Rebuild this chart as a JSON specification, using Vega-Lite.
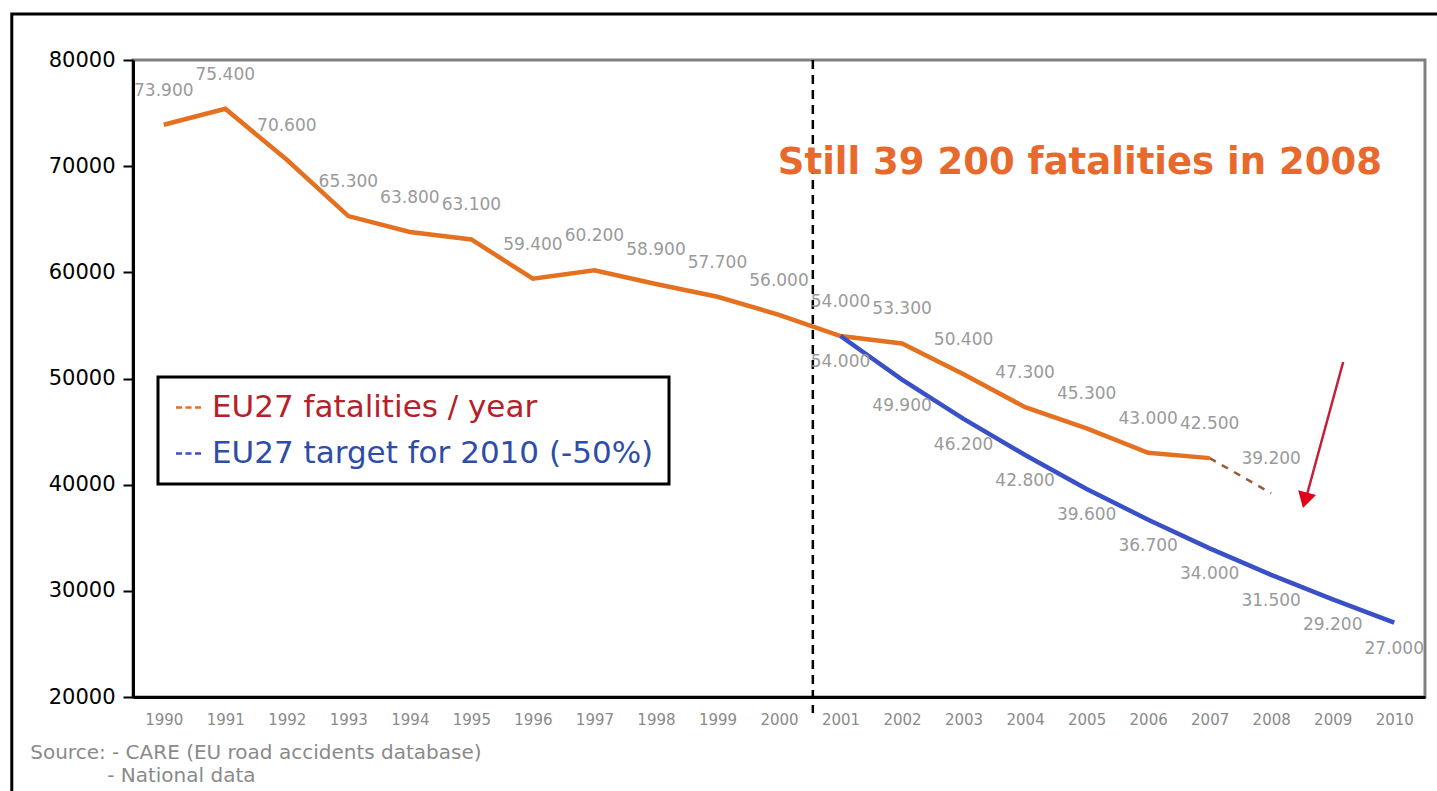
{
  "$schema": "https://vega.github.io/schema/vega-lite/v6.json",
  "autosize": {"type": "none"},
  "padding": {"left": 133, "top": 60, "right": 12, "bottom": 94},
  "width": 1292,
  "height": 637,
  "background": "white",
  "datasets": {
    "main": [
      {"year": 1990, "value": 73900, "series": "EU27 fatalities / year"},
      {"year": 1991, "value": 75400, "series": "EU27 fatalities / year"},
      {"year": 1992, "value": 70600, "series": "EU27 fatalities / year"},
      {"year": 1993, "value": 65300, "series": "EU27 fatalities / year"},
      {"year": 1994, "value": 63800, "series": "EU27 fatalities / year"},
      {"year": 1995, "value": 63100, "series": "EU27 fatalities / year"},
      {"year": 1996, "value": 59400, "series": "EU27 fatalities / year"},
      {"year": 1997, "value": 60200, "series": "EU27 fatalities / year"},
      {"year": 1998, "value": 58900, "series": "EU27 fatalities / year"},
      {"year": 1999, "value": 57700, "series": "EU27 fatalities / year"},
      {"year": 2000, "value": 56000, "series": "EU27 fatalities / year"},
      {"year": 2001, "value": 54000, "series": "EU27 fatalities / year"},
      {"year": 2002, "value": 53300, "series": "EU27 fatalities / year"},
      {"year": 2003, "value": 50400, "series": "EU27 fatalities / year"},
      {"year": 2004, "value": 47300, "series": "EU27 fatalities / year"},
      {"year": 2005, "value": 45300, "series": "EU27 fatalities / year"},
      {"year": 2006, "value": 43000, "series": "EU27 fatalities / year"},
      {"year": 2007, "value": 42500, "series": "EU27 fatalities / year"},
      {"year": 2007, "value": 42500, "series": "projection"},
      {"year": 2008, "value": 39200, "series": "projection"},
      {"year": 2001, "value": 54000, "series": "EU27 target for 2010 (-50%)"},
      {"year": 2002, "value": 49900, "series": "EU27 target for 2010 (-50%)"},
      {"year": 2003, "value": 46200, "series": "EU27 target for 2010 (-50%)"},
      {"year": 2004, "value": 42800, "series": "EU27 target for 2010 (-50%)"},
      {"year": 2005, "value": 39600, "series": "EU27 target for 2010 (-50%)"},
      {"year": 2006, "value": 36700, "series": "EU27 target for 2010 (-50%)"},
      {"year": 2007, "value": 34000, "series": "EU27 target for 2010 (-50%)"},
      {"year": 2008, "value": 31500, "series": "EU27 target for 2010 (-50%)"},
      {"year": 2009, "value": 29200, "series": "EU27 target for 2010 (-50%)"},
      {"year": 2010, "value": 27000, "series": "EU27 target for 2010 (-50%)"}
    ]
  },
  "layer": [
    {
      "data": {"values": [{"k": 1}]},
      "mark": {"type": "rect", "fillOpacity": 0, "stroke": "black", "strokeWidth": 3},
      "encoding": {
        "x": {"datum": 1987.53, "type": "quantitative", "scale": {"domain": [1989.5, 2010.5], "nice": false, "zero": false}},
        "x2": {"datum": 2011.5},
        "y": {"datum": 84330, "type": "quantitative", "scale": {"domain": [20000, 80000], "nice": false, "zero": false}},
        "y2": {"datum": 5000}
      }
    },
    {
      "data": {"name": "main"},
      "transform": [{"filter": "datum.series != 'projection'"}],
      "mark": {"type": "line", "strokeWidth": 4.5},
      "encoding": {
        "x": {
          "field": "year", "type": "quantitative",
          "scale": {"domain": [1989.5, 2010.5], "nice": false, "zero": false},
          "axis": {
            "title": null,
            "values": [1990,1991,1992,1993,1994,1995,1996,1997,1998,1999,2000,2001,2002,2003,2004,2005,2006,2007,2008,2009,2010],
            "format": "d",
            "grid": false,
            "ticks": false,
            "domainColor": "black",
            "domainWidth": 3,
            "labelColor": "#8a8a8a",
            "labelFont": "DejaVu Sans",
            "labelFontSize": 15,
            "labelPadding": 15
          }
        },
        "y": {
          "field": "value", "type": "quantitative",
          "scale": {"domain": [20000, 80000], "nice": false, "zero": false},
          "axis": {
            "title": null,
            "values": [20000, 30000, 40000, 50000, 60000, 70000, 80000],
            "format": "d",
            "grid": false,
            "domainColor": "black",
            "domainWidth": 3,
            "tickColor": "black",
            "tickWidth": 2,
            "tickSize": 10,
            "labelColor": "black",
            "labelFont": "DejaVu Sans",
            "labelFontSize": 21,
            "labelPadding": 8
          }
        },
        "color": {
          "field": "series", "type": "nominal",
          "scale": {"domain": ["EU27 fatalities / year", "EU27 target for 2010 (-50%)"], "range": ["#E5701F", "#3A50C6"]},
          "legend": {
            "title": null,
            "orient": "none",
            "legendX": 25,
            "legendY": 317,
            "direction": "vertical",
            "fillColor": "white",
            "strokeColor": "black",
            "padding": 15,
            "rowPadding": 14,
            "labelFont": "DejaVu Sans",
            "labelFontSize": 31,
            "labelOffset": 8,
            "labelLimit": 0,
            "symbolType": "M-1,0H-0.52M-0.24,0H0.24M0.52,0H1",
            "symbolSize": 625,
            "symbolStrokeWidth": 2.5,
            "encode": {
              "legend": {"update": {"strokeWidth": {"value": 3}}},
              "labels": {"update": {"fill": {"signal": "datum.value == 'EU27 fatalities / year' ? '#B5202A' : '#2D4DA8'"}}}
            }
          }
        }
      }
    },
    {
      "data": {"values": [{"k": 1}]},
      "mark": {"type": "rule", "stroke": "black", "strokeWidth": 2.5, "strokeDash": [9, 6]},
      "encoding": {
        "x": {"datum": 2000.55, "type": "quantitative", "scale": {"domain": [1989.5, 2010.5], "nice": false, "zero": false}},
        "y": {"datum": 80000, "type": "quantitative", "scale": {"domain": [20000, 80000], "nice": false, "zero": false}},
        "y2": {"datum": 18500}
      }
    },
    {
      "data": {"name": "main"},
      "transform": [{"filter": "datum.series == 'projection'"}],
      "mark": {"type": "line", "strokeWidth": 2.5, "strokeDash": [7, 7], "color": "#9A5A3A"},
      "encoding": {
        "x": {"field": "year", "type": "quantitative", "scale": {"domain": [1989.5, 2010.5], "nice": false, "zero": false}},
        "y": {"field": "value", "type": "quantitative", "scale": {"domain": [20000, 80000], "nice": false, "zero": false}}
      }
    },
    {
      "data": {"name": "main"},
      "transform": [
        {"filter": "(datum.series == 'EU27 fatalities / year') || (datum.series == 'projection' && datum.year == 2008)"},
        {"calculate": "replace(format(datum.value, ',.0f'), ',', '.')", "as": "lbl"}
      ],
      "mark": {"type": "text", "dy": -34, "font": "DejaVu Sans", "fontSize": 17, "color": "#9a9a9a"},
      "encoding": {
        "x": {"field": "year", "type": "quantitative", "scale": {"domain": [1989.5, 2010.5], "nice": false, "zero": false}},
        "y": {"field": "value", "type": "quantitative", "scale": {"domain": [20000, 80000], "nice": false, "zero": false}},
        "text": {"field": "lbl", "type": "nominal"}
      }
    },
    {
      "data": {"name": "main"},
      "transform": [
        {"filter": "datum.series == 'EU27 target for 2010 (-50%)'"},
        {"calculate": "replace(format(datum.value, ',.0f'), ',', '.')", "as": "lbl"}
      ],
      "mark": {"type": "text", "dy": 26, "font": "DejaVu Sans", "fontSize": 17, "color": "#9a9a9a"},
      "encoding": {
        "x": {"field": "year", "type": "quantitative", "scale": {"domain": [1989.5, 2010.5], "nice": false, "zero": false}},
        "y": {"field": "value", "type": "quantitative", "scale": {"domain": [20000, 80000], "nice": false, "zero": false}},
        "text": {"field": "lbl", "type": "nominal"}
      }
    },
    {
      "data": {"values": [{"label": "Still 39 200 fatalities in 2008"}]},
      "mark": {"type": "text", "font": "DejaVu Sans", "fontWeight": "bold", "fontSize": 37, "color": "#E8692C", "align": "center", "baseline": "middle"},
      "encoding": {
        "x": {"datum": 2004.89, "type": "quantitative", "scale": {"domain": [1989.5, 2010.5], "nice": false, "zero": false}},
        "y": {"datum": 70300, "type": "quantitative", "scale": {"domain": [20000, 80000], "nice": false, "zero": false}},
        "text": {"field": "label"}
      }
    },
    {
      "data": {"values": [{"label": "Source: - CARE (EU road accidents database)"}]},
      "mark": {"type": "text", "font": "DejaVu Sans", "fontSize": 20, "color": "#8a8a8a", "align": "left", "baseline": "middle"},
      "encoding": {
        "x": {"datum": 1987.83, "type": "quantitative", "scale": {"domain": [1989.5, 2010.5], "nice": false, "zero": false}},
        "y": {"datum": 14726, "type": "quantitative", "scale": {"domain": [20000, 80000], "nice": false, "zero": false}},
        "text": {"field": "label"}
      }
    },
    {
      "data": {"values": [{"label": "- National data"}]},
      "mark": {"type": "text", "font": "DejaVu Sans", "fontSize": 20, "color": "#8a8a8a", "align": "left", "baseline": "middle"},
      "encoding": {
        "x": {"datum": 1989.08, "type": "quantitative", "scale": {"domain": [1989.5, 2010.5], "nice": false, "zero": false}},
        "y": {"datum": 12559, "type": "quantitative", "scale": {"domain": [20000, 80000], "nice": false, "zero": false}},
        "text": {"field": "label"}
      }
    },
    {
      "data": {"values": [{"k": 1}]},
      "mark": {"type": "rule", "stroke": "#C41E3A", "strokeWidth": 2.5},
      "encoding": {
        "x": {"datum": 2009.17, "type": "quantitative", "scale": {"domain": [1989.5, 2010.5], "nice": false, "zero": false}},
        "y": {"datum": 51555, "type": "quantitative", "scale": {"domain": [20000, 80000], "nice": false, "zero": false}},
        "x2": {"datum": 2008.56},
        "y2": {"datum": 38600}
      }
    },
    {
      "data": {"values": [{"k": 1}]},
      "mark": {"type": "point", "shape": "triangle-down", "filled": true, "color": "#E0001B", "size": 340, "angle": 15, "opacity": 1},
      "encoding": {
        "x": {"datum": 2008.55, "type": "quantitative", "scale": {"domain": [1989.5, 2010.5], "nice": false, "zero": false}},
        "y": {"datum": 38519, "type": "quantitative", "scale": {"domain": [20000, 80000], "nice": false, "zero": false}}
      }
    }
  ],
  "config": {
    "view": {"stroke": "#808080", "strokeWidth": 3}
  }
}
